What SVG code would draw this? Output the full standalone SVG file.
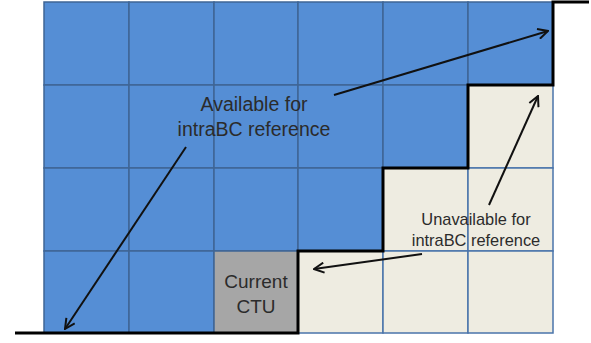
<svg xmlns="http://www.w3.org/2000/svg" width="591" height="343" viewBox="0 0 591 343">
<defs>
<style>
.av{fill:#558ed5;stroke:#3f6595;stroke-width:1.5}
.un{fill:#eeece1;stroke:#4a74aa;stroke-width:1.5}
.cur{fill:#a6a6a6;stroke:#3f6595;stroke-width:1.5}
.t{font-family:"Liberation Sans",Arial,sans-serif;fill:#2b2b2b;text-anchor:middle}
.arr{stroke:#111;stroke-width:2;fill:none;marker-end:url(#ah)}
</style>
<marker id="ah" viewBox="0 0 12 12" refX="11" refY="6" markerWidth="12" markerHeight="12" markerUnits="userSpaceOnUse" orient="auto">
<path d="M1,1 L11,6 L1,11" fill="none" stroke="#111" stroke-width="2"/>
</marker>
</defs>
<rect width="591" height="343" fill="#fff"/>
<g id="available">
<rect class="av" x="44" y="2" width="85" height="83"/>
<rect class="av" x="129" y="2" width="85" height="83"/>
<rect class="av" x="214" y="2" width="84" height="83"/>
<rect class="av" x="298" y="2" width="85" height="83"/>
<rect class="av" x="383" y="2" width="85" height="83"/>
<rect class="av" x="468" y="2" width="85" height="83"/>
<rect class="av" x="44" y="85" width="85" height="83"/>
<rect class="av" x="129" y="85" width="85" height="83"/>
<rect class="av" x="214" y="85" width="84" height="83"/>
<rect class="av" x="298" y="85" width="85" height="83"/>
<rect class="av" x="383" y="85" width="85" height="83"/>
<rect class="av" x="44" y="168" width="85" height="83"/>
<rect class="av" x="129" y="168" width="85" height="83"/>
<rect class="av" x="214" y="168" width="84" height="83"/>
<rect class="av" x="298" y="168" width="85" height="83"/>
<rect class="av" x="44" y="251" width="85" height="82"/>
<rect class="av" x="129" y="251" width="85" height="82"/>
</g>
<g id="unavailable">
<rect class="un" x="468" y="85" width="85" height="83"/>
<rect class="un" x="383" y="168" width="85" height="83"/>
<rect class="un" x="468" y="168" width="85" height="83"/>
<rect class="un" x="298" y="251" width="85" height="82"/>
<rect class="un" x="383" y="251" width="85" height="82"/>
<rect class="un" x="468" y="251" width="85" height="82"/>
</g>
<g id="current-ctu">
<rect class="cur" x="214" y="251" width="84" height="82"/>
<text class="t" x="256" y="288" font-size="19">Current</text>
<text class="t" x="256" y="313" font-size="19">CTU</text>
</g>
<g id="boundary">
<polyline points="15,333 298,333 298,251 383,251 383,168 468,168 468,85 553,85 553,2 589,2" fill="none" stroke="#000" stroke-width="3"/>
</g>
<g id="label-available">
<text class="t" x="254" y="111" font-size="19.5">Available for</text>
<text class="t" x="254" y="136" font-size="19.5">intraBC reference</text>
</g>
<g id="label-unavailable">
<text class="t" x="476" y="225" font-size="16.4">Unavailable for</text>
<text class="t" x="476" y="246" font-size="16.4">intraBC reference</text>
</g>
<g id="connectors">
<line class="arr" x1="334" y1="95" x2="548" y2="31"/>
<line class="arr" x1="186" y1="147" x2="65" y2="329"/>
<line class="arr" x1="489" y1="205" x2="538" y2="96"/>
<line class="arr" x1="422" y1="254" x2="314" y2="269"/>
</g>
</svg>
